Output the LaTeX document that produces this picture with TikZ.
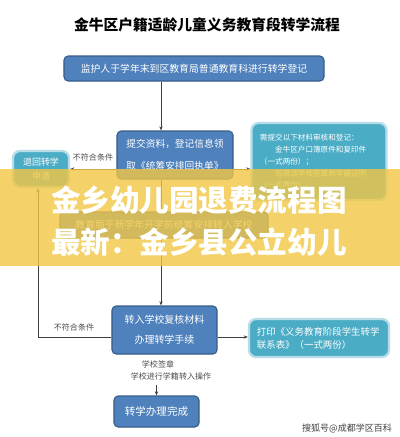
\documentclass[tikz,border=0pt]{standalone}
\usepackage{fontspec}
\setmainfont{Noto Sans CJK SC}
\usepackage{xcolor}
\usepackage{tikz}
\usetikzlibrary{positioning, arrows.meta, calc}
\definecolor{boxblue}{HTML}{4F81BD}
\definecolor{boxedge}{HTML}{385D8A}
\definecolor{boxteal}{HTML}{4BACC6}
\definecolor{tealedge}{HTML}{B7DEE8}
\definecolor{banner}{HTML}{F2C744}
\definecolor{linegray}{HTML}{404040}
\tikzset{
  blue box/.style={
    draw=boxedge, thick, fill=boxblue,
    rounded corners=3pt, text=white,
    align=center, inner sep=0pt
  },
  teal box/.style={
    draw=tealedge, line width=1.6pt, fill=boxteal,
    rounded corners=5pt, text=white,
    inner sep=0pt
  },
  flow arrow/.style={
    -{Stealth[length=3pt,width=2.4pt]},
    line width=0.5pt, color=linegray
  },
  flow line/.style={line width=0.5pt, color=linegray},
  note/.style={font=\fontsize{5.7}{7}\selectfont, text=black!70}
}

\begin{document}
\begin{tikzpicture}[x=0.025cm, y=-0.025cm]
  \fill[white] (0,0) rectangle (400,437);
  \useasboundingbox (0,0) rectangle (400,437);

  % Title
  \node[font=\fontsize{10.5}{12}\selectfont\bfseries] (title) at (207,25) {金牛区户籍适龄儿童义务教育段转学流程};

  % Main column
  \node[blue box, minimum width=6.5cm, minimum height=0.625cm, font=\fontsize{7}{8}\selectfont] (reg) at (194,68.5) {监护人于学年末到区教育局普通教育科进行转学登记};
  \node[blue box, minimum width=2.9cm, minimum height=1.2cm, font=\fontsize{6.9}{15.6}\selectfont] (submit) at (175,155) {提交资料，登记信息领\\取《统筹安排回执单》};
  \node[blue box, minimum width=5.2cm, minimum height=0.65cm, font=\fontsize{7}{8}\selectfont] (assign) at (164,225) {教育局于新学年开学前统筹安排转入学校};
  \node[blue box, minimum width=2.625cm, minimum height=1.2cm, font=\fontsize{7.1}{14.2}\selectfont] (recheck) at (164.5,330) {转入学校复核材料\\办理转学手续};
  \node[blue box, minimum width=2.125cm, minimum height=0.775cm, font=\fontsize{7.5}{9}\selectfont] (done) at (156.5,411.5) {转学办理完成};

  % Side boxes
  \node[teal box, minimum width=1.4cm, minimum height=0.9cm, align=center, font=\fontsize{6.4}{10}\selectfont] (reject) at (41,169) {退回转学\\申请};
  \node[teal box, minimum width=3.375cm, minimum height=1.925cm, text width=2.95cm, align=left, font=\fontsize{5.4}{8.4}\selectfont] (docs) at (319,161.5) {需提交以下材料审核和登记：\\\hspace*{2em}金牛区户口簿原件和复印件\\（一式两份）；\\\hspace*{2em}现就读学校签章的学籍证明\\（一式两份）。};
  \node[teal box, minimum width=3.5cm, minimum height=0.95cm, text width=3.1cm, align=left, font=\fontsize{6.7}{9.3}\selectfont] (print) at (319,338) {打印《义务教育阶段学生转学\\联系表》（一式两份）};

  % Labels
  \node[note] (nofit1) at (93,157) {不符合条件};
  \node[note] (nofit2) at (74,327) {不符合条件};
  \node[note] (stamp) at (158,364) {学校签章};
  \node[note] (enroll) at (171,376) {学校进行学籍转入操作};

  % Connectors
  \coordinate (trunk) at (161,0);
  \coordinate (back) at (38,337);
  \draw[flow arrow] (reg.south -| trunk) -- (submit.north -| trunk);
  \draw[flow arrow] (submit.west |- reject) -- (reject.east);
  \draw[flow arrow] (submit.east |- reject) -- (docs.west |- reject);
  \draw[flow line] (submit.south -| trunk) -- (assign.north -| trunk);
  \draw[flow arrow] (assign.south -| trunk) -- (recheck.north -| trunk);
  \draw[flow arrow] (recheck.west |- back) -- (back) -- (reject.south -| back);
  \draw[flow arrow] (recheck.east |- back) -- (print.west |- back);
  \draw[flow arrow] (enroll.south -| done.north) -- (done.north);

  % Banner
  \fill[banner, fill opacity=0.8] (0,169) rectangle (400,266);
  \node[anchor=west, text=white, inner sep=0pt, font=\fontsize{21}{24}\selectfont\bfseries] (ban1) at (51,200) {金乡幼儿园退费流程图};
  \node[anchor=west, text=white, inner sep=0pt, font=\fontsize{21}{24}\selectfont\bfseries] (ban2) at (51,242) {最新：金乡县公立幼儿};

  % Source mark
  \node[font=\fontsize{6.4}{7}\selectfont, text=black!75] (mark) at (347,428) {搜狐号@成都学区百科};
\end{tikzpicture}
\end{document}
